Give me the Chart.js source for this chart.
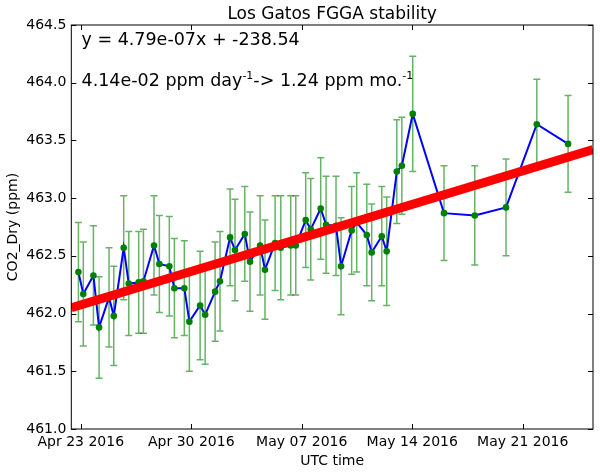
<!DOCTYPE html>
<html>
<head>
<meta charset="utf-8">
<script src="https://cdn.jsdelivr.net/npm/chart.js@4.4.1/dist/chart.umd.min.js"></script>
<style>
  html, body { margin: 0; padding: 0; background: #fff; }
</style>
</head>
<body>
<canvas id="c" width="600" height="474"></canvas>
<script>
// x values are days since Apr 23 2016 00:00 UTC
const dayOffsets = [
  -0.15, 0.16, 0.80, 1.16, 1.79, 2.09, 2.72, 3.04, 3.67, 3.97,
  4.64, 4.98, 5.61, 5.93, 6.56, 6.88, 7.56, 7.88, 8.51, 8.82,
  9.46, 9.77, 10.39, 10.72, 11.36, 11.67, 12.31, 12.67, 13.30, 13.62,
  14.25, 14.57, 15.20, 15.54, 16.17, 16.49, 17.16, 17.48, 18.12, 18.43,
  19.07, 19.38, 20.02, 20.34, 21.03, 23.01, 24.96, 26.94, 28.89, 30.87
];
const co2Dry = [
  462.36, 462.17, 462.33, 461.88, 462.14, 461.98, 462.57, 462.26, 462.27, 462.28,
  462.59, 462.43, 462.41, 462.22, 462.22, 461.93, 462.07, 461.99, 462.19, 462.28,
  462.66, 462.55, 462.69, 462.45, 462.59, 462.38, 462.61, 462.57, 462.59, 462.59,
  462.81, 462.73, 462.91, 462.77, 462.76, 462.41, 462.72, 462.79, 462.68, 462.53,
  462.67, 462.54, 463.23, 463.28, 463.73, 462.87, 462.85, 462.92, 463.64, 463.47
];
const co2Err = [
  0.43, 0.45, 0.43, 0.44, 0.43, 0.43, 0.45, 0.45, 0.44, 0.45,
  0.43, 0.42, 0.43, 0.43, 0.41, 0.43, 0.47, 0.43, 0.43, 0.43,
  0.42, 0.44, 0.41, 0.43, 0.43, 0.43, 0.41, 0.45, 0.43, 0.43,
  0.41, 0.44, 0.44, 0.42, 0.43, 0.42, 0.38, 0.43, 0.44, 0.42,
  0.43, 0.47, 0.45, 0.42, 0.50, 0.41, 0.43, 0.42, 0.39, 0.42
];
const fitDays = [-0.6, 32.45];
const fitValues = [462.05, 463.42];
const tickDays = [0, 7, 14, 21, 28];
const tickLabels = ['Apr 23 2016', 'Apr 30 2016', 'May 07 2016', 'May 14 2016', 'May 21 2016'];
const yTicks = [461.0, 461.5, 462.0, 462.5, 463.0, 463.5, 464.0, 464.5];

const FONT = 'DejaVu Sans';

const mplPlugin = {
  id: 'mpl',
  beforeDatasetsDraw(chart) {
    const ctx = chart.ctx;
    const xs = chart.scales.x, ys = chart.scales.y;
    ctx.save();
    ctx.strokeStyle = 'rgba(0,128,0,0.6)';
    ctx.lineWidth = 1.5;
    dayOffsets.forEach((d, i) => {
      const px = xs.getPixelForValue(d);
      const top = ys.getPixelForValue(co2Dry[i] + co2Err[i]);
      const bot = ys.getPixelForValue(co2Dry[i] - co2Err[i]);
      ctx.beginPath();
      ctx.moveTo(px, top); ctx.lineTo(px, bot);
      ctx.moveTo(px - 3.5, top); ctx.lineTo(px + 3.5, top);
      ctx.moveTo(px - 3.5, bot); ctx.lineTo(px + 3.5, bot);
      ctx.stroke();
    });
    ctx.restore();
  },
  afterDraw(chart) {
    const ctx = chart.ctx;
    const a = chart.chartArea;
    const xs = chart.scales.x, ys = chart.scales.y;
    ctx.save();
    ctx.strokeStyle = '#000';
    ctx.lineWidth = 1;
    ctx.strokeRect(a.left, a.top, a.right - a.left, a.bottom - a.top);
    ctx.beginPath();
    yTicks.forEach(v => {
      const py = Math.round(ys.getPixelForValue(v)) + 0.5;
      ctx.moveTo(a.left, py); ctx.lineTo(a.left + 5, py);
      ctx.moveTo(a.right, py); ctx.lineTo(a.right - 5, py);
    });
    tickDays.forEach(v => {
      const px = Math.round(xs.getPixelForValue(v)) + 0.5;
      ctx.moveTo(px, a.bottom); ctx.lineTo(px, a.bottom - 5);
      ctx.moveTo(px, a.top); ctx.lineTo(px, a.top + 5);
    });
    ctx.stroke();

    ctx.fillStyle = '#000';
    ctx.textBaseline = 'alphabetic';
    ctx.textAlign = 'center';
    ctx.font = '17px "' + FONT + '"';
    ctx.fillText('Los Gatos FGGA stability', (a.left + a.right) / 2, 18.5);

    ctx.textAlign = 'left';
    ctx.font = '17.5px "' + FONT + '"';
    ctx.fillText('y = 4.79e-07x + -238.54', 81.5, 45);

    // rate line with superscripts
    const parts = [['4.14e-02 ppm day', false], ['-1', true], ['-> 1.24 ppm mo.', false], ['-1', true]];
    let x = 81.5;
    parts.forEach(([t, sup]) => {
      ctx.font = (sup ? '11px "' : '17.5px "') + FONT + '"';
      ctx.fillText(t, x, sup ? 79 : 86);
      x += ctx.measureText(t).width;
    });
    ctx.restore();
  }
};

new Chart(document.getElementById('c'), {
  type: 'line',
  data: {
    datasets: [
      {
        label: 'fit',
        data: fitDays.map((d, i) => ({ x: d, y: fitValues[i] })),
        borderColor: '#ff0000',
        borderWidth: 9,
        pointRadius: 0,
        clip: 0,
        order: 0
      },
      {
        label: 'CO2_Dry',
        data: dayOffsets.map((d, i) => ({ x: d, y: co2Dry[i] })),
        borderColor: '#0000ff',
        borderWidth: 2,
        pointRadius: 3.3,
        pointBackgroundColor: '#008000',
        pointBorderColor: '#008000',
        pointBorderWidth: 0,
        tension: 0,
        order: 1
      }
    ]
  },
  options: {
    responsive: false,
    animation: false,
    events: [],
    layout: { padding: { top: 25, right: 7, left: 0, bottom: 0 } },
    plugins: { legend: { display: false }, tooltip: { enabled: false } },
    scales: {
      x: {
        type: 'linear',
        min: -0.6,
        max: 32.45,
        afterBuildTicks: s => { s.ticks = tickDays.map(v => ({ value: v })); },
        afterFit: s => { s.height = 45; },
        grid: { display: false, drawTicks: false },
        border: { display: false },
        ticks: {
          autoSkip: false,
          maxRotation: 0,
          padding: 5,
          color: '#000',
          font: { family: FONT, size: 14 },
          callback: v => tickLabels[tickDays.indexOf(v)]
        },
        title: {
          display: true,
          text: 'UTC time',
          color: '#000',
          font: { family: FONT, size: 14 },
          padding: { top: 0, bottom: 4.6 }
        }
      },
      y: {
        min: 461,
        max: 464.5,
        afterBuildTicks: s => { s.ticks = yTicks.map(v => ({ value: v })); },
        afterFit: s => { s.width = 71.3; },
        grid: { display: false, drawTicks: false },
        border: { display: false },
        ticks: {
          padding: 5,
          color: '#000',
          font: { family: FONT, size: 14 },
          callback: v => Number(v).toFixed(1)
        },
        title: {
          display: true,
          text: 'CO2_Dry (ppm)',
          color: '#000',
          font: { family: FONT, size: 14 },
          padding: { top: 5, bottom: 0 }
        }
      }
    }
  },
  plugins: [mplPlugin]
});
</script>
</body>
</html>
